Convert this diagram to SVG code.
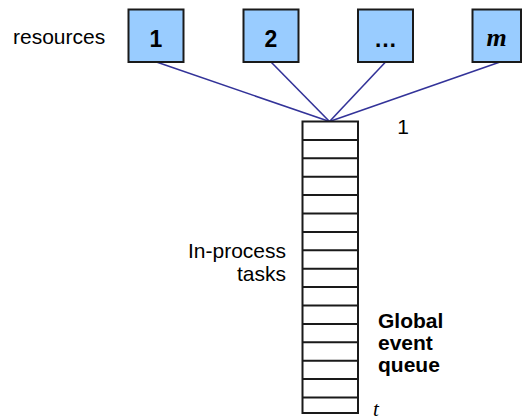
<svg xmlns="http://www.w3.org/2000/svg" width="524" height="420" viewBox="0 0 524 420">
<style>
.box{fill:#99ccff;stroke:#1a1a1a;stroke-width:2}
.num{font-family:"Liberation Sans",Arial,sans-serif;font-weight:bold;font-size:23px;fill:#000;text-anchor:middle}
.lbl{font-family:"Liberation Sans",Arial,sans-serif;font-size:21px;fill:#000}
.blbl{font-family:"Liberation Sans",Arial,sans-serif;font-size:21px;font-weight:bold;fill:#000}
.conn line{stroke:#333399;stroke-width:1.6}
.row{stroke:#1a1a1a;stroke-width:2}
</style>
<rect width="524" height="420" fill="#fff"/>
<text class="lbl" x="13" y="44">resources</text>
<g id="connectors" class="conn">
<line x1="156.5" y1="62" x2="329.5" y2="121.5"/>
<line x1="271" y1="62" x2="329.5" y2="121.5"/>
<line x1="385.5" y1="62" x2="329.5" y2="121.5"/>
<line x1="500" y1="62" x2="329.5" y2="121.5"/>
</g>
<g id="res1"><rect class="box" x="128.5" y="9.5" width="55" height="52.5"/><text class="num" x="156" y="47">1</text></g>
<g id="res2"><rect class="box" x="243.5" y="9.5" width="55" height="52.5"/><text class="num" x="271" y="47">2</text></g>
<g id="resdots"><rect class="box" x="358" y="9.5" width="55" height="52.5"/><text class="num" x="385.5" y="47">…</text></g>
<g id="resm"><rect class="box" x="472.5" y="9.5" width="48.5" height="52.5"/><text x="496.5" y="46" font-family="'Liberation Serif','Times New Roman',serif" font-style="italic" font-weight="bold" font-size="26" text-anchor="middle">m</text></g>
<g id="queue">
<rect x="302.5" y="121.5" width="55.5" height="291.5" fill="#fff" stroke="#1a1a1a" stroke-width="2"/>
<path class="row" d="M302.5 139.9H358M302.5 158.3H358M302.5 176.7H358M302.5 195.1H358M302.5 213.5H358M302.5 231.9H358M302.5 250.3H358M302.5 268.7H358M302.5 287.1H358M302.5 305.5H358M302.5 323.9H358M302.5 342.3H358M302.5 360.7H358M302.5 379.1H358M302.5 397.5H358"/>
</g>
<text class="lbl" x="403" y="134" text-anchor="middle">1</text>
<text class="lbl" x="286" y="258" text-anchor="end">In-process</text>
<text class="lbl" x="286" y="280.5" text-anchor="end">tasks</text>
<text class="blbl" x="378" y="328">Global</text>
<text class="blbl" x="378" y="350">event</text>
<text class="blbl" x="378" y="372">queue</text>
<text x="373" y="416" font-family="'Liberation Serif','Times New Roman',serif" font-style="italic" font-size="21">t</text>
</svg>
